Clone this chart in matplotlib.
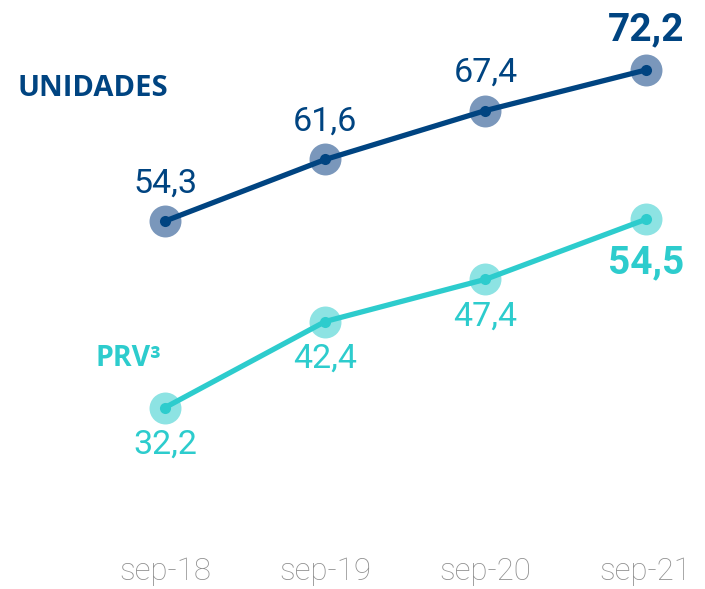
import matplotlib
matplotlib.use('Agg')
import matplotlib.pyplot as plt

# Data
periods = ['sep-18', 'sep-19', 'sep-20', 'sep-21']
unidades = [54.3, 61.6, 67.4, 72.2]
prv = [32.2, 42.4, 47.4, 54.5]

navy = '#004481'
navy_light = '#7a97bb'
aqua = '#2dcccd'
aqua_light = '#8de3e3'
grey = '#8f8f8f'

plt.rcParams['font.family'] = ['Roboto', 'DejaVu Sans']

fig = plt.figure(figsize=(7.05, 5.89), dpi=100)
ax = fig.add_axes([0, 0, 1, 1])
ax.set_xlim(-1.03, 3.37)
ax.set_ylim(10.7, 80.5)
ax.axis('off')

x = list(range(len(periods)))


def fmt(v):
    return f'{v:.1f}'.replace('.', ',')


# lines with a soft halo marker and a small dark dot
for vals, dark, light in [(unidades, navy, navy_light), (prv, aqua, aqua_light)]:
    ax.plot(x, vals, color=dark, linewidth=3.8, zorder=2, solid_capstyle='round')
    ax.plot(x, vals, 'o', color=light, markersize=23, markeredgewidth=0, zorder=1)
    ax.plot(x, vals, 'o', color=dark, markersize=8, markeredgewidth=0, zorder=3)

# value labels, UNIDADES above the points
for i, v in enumerate(unidades):
    last = i == len(unidades) - 1
    ax.annotate(fmt(v), (i, v), xytext=(0, 29 if last else 27), textcoords='offset points',
                ha='center', va='center',
                fontsize=28 if last else 24.5, fontweight='bold' if last else 'normal',
                color=navy)

# PRV labels below the points
for i, v in enumerate(prv):
    last = i == len(prv) - 1
    ax.annotate(fmt(v), (i, v), xytext=(0, -31 if last else -27), textcoords='offset points',
                ha='center', va='center',
                fontsize=28 if last else 24.5, fontweight='bold' if last else 'normal',
                color=aqua)

# series names
ax.text(17 / 705, 1 - 88 / 589, 'UNIDADES', transform=ax.transAxes, fontsize=21,
        family=['Open Sans', 'DejaVu Sans'], fontweight='bold', color=navy,
        ha='left', va='center')
ax.text(96 / 705, 1 - 358 / 589, 'PRV³', transform=ax.transAxes, fontsize=20.5,
        family=['Open Sans', 'DejaVu Sans'], fontweight='bold', color=aqua,
        ha='left', va='center')

# x tick labels
for i, p in enumerate(periods):
    ax.text(i, 1 - 571 / 589, p, transform=ax.get_xaxis_transform(), ha='center',
            va='center', fontsize=22.5, fontweight='light', color=grey)

fig.savefig('out.png', dpi=100)
